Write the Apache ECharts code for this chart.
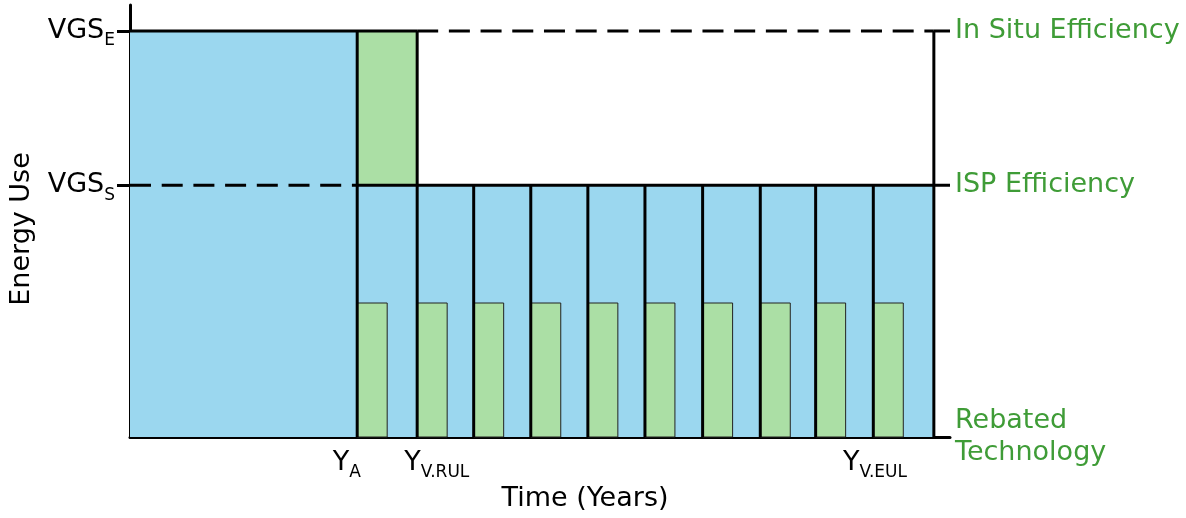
<!DOCTYPE html>
<html>
<head>
<meta charset="utf-8">
<script src="https://cdn.jsdelivr.net/npm/echarts@6/dist/echarts.min.js"></script>
<style>
html,body{margin:0;padding:0;background:#fff;}
#c{width:1186px;height:518px;}
</style>
</head>
<body>
<div id="c"></div>
<script>
// ---- data (x in years, y in relative energy use) ----
const blueStart = [0, 3.94];
const blueEnd = [3.94, 13.94];
const blueLevel = [100, 62];
const greenBlock = [3.94, 4.98, 62, 100];          // x0, x1, low, high
const boundaries = [3.94, 4.98, 5.96, 6.95, 7.94, 8.93, 9.93, 10.93, 11.89, 12.89, 13.94];
const boundaryTop = [100, 100, 62, 62, 62, 62, 62, 62, 62, 62, 100];
const rebateStart = [3.94, 4.98, 5.96, 6.95, 7.94, 8.93, 9.93, 10.93, 11.89, 12.89];
const rebateWidth = 0.52;
const rebateLevel = 33;
const VGS_E = 100, VGS_S = 62;
const xMax = 14.22, yMax = 106.4;
// horizontal reference segments: x0, x1, level, dashed?
const hSegments = [
  [0, 4.98, VGS_E, 0],
  [4.98, 13.94, VGS_E, 1],
  [13.94, xMax, VGS_E, 0],
  [0, 3.94, VGS_S, 1],
  [3.94, xMax, VGS_S, 0]
];
const xTickValues = [3.76, 5.32, 12.92];
const xTickLabels = ['Y{s|A}', 'Y{s|V.RUL}', 'Y{s|V.EUL}'];
const yTickValues = [VGS_S, VGS_E];
const yTickLabels = ['VGS{s|S}', 'VGS{s|E}'];
const rightValues = [0, VGS_S, VGS_E];
const rightLabels = ['Rebated\nTechnology', 'ISP Efficiency', 'In Situ Efficiency'];

const BLUE = '#9bd7ef', GREEN = '#abdfa5', TXTGREEN = '#3f9c37';
const FONT = 'DejaVu Sans';
const FS = 27;

const chart = echarts.init(document.getElementById('c'));
const richSub = {
  s: {fontSize: 17, fontFamily: FONT, color: '#000', verticalAlign: 'bottom', padding: [0, 0, -5, 0]}
};
chart.setOption({
  animation: false,
  grid: {left: 130, right: 236, top: 5, bottom: 81},
  xAxis: {
    type: 'value', min: 0, max: xMax,
    axisLine: {show: true, lineStyle: {color: '#000', width: 3}},
    axisTick: {show: false},
    splitLine: {show: false},
    axisLabel: {
      customValues: xTickValues, margin: 12,
      fontSize: FS, fontFamily: FONT, color: '#000',
      formatter: v => xTickLabels[xTickValues.indexOf(v)],
      rich: richSub
    }
  },
  yAxis: [{
    type: 'value', min: 0, max: yMax, position: 'left',
    axisLine: {show: true, lineStyle: {color: '#000', width: 3}},
    axisTick: {show: true, customValues: yTickValues, length: 13, lineStyle: {color: '#000', width: 3}},
    splitLine: {show: false},
    axisLabel: {
      customValues: yTickValues, margin: 15,
      fontSize: FS, fontFamily: FONT, color: '#000',
      formatter: v => yTickLabels[yTickValues.indexOf(v)],
      rich: richSub
    }
  }, {
    type: 'value', min: 0, max: yMax, position: 'right',
    axisLine: {show: false}, axisTick: {show: false}, splitLine: {show: false},
    axisLabel: {
      customValues: rightValues, margin: 5,
      fontSize: FS, fontFamily: FONT, color: TXTGREEN, lineHeight: 32,
      formatter: v => rightLabels[rightValues.indexOf(v)]
    }
  }],
  graphic: [
    {type: 'text', x: 22, y: 229, rotation: Math.PI / 2,
     style: {text: 'Energy Use', font: FS + 'px "DejaVu Sans"', fill: '#000', align: 'center', verticalAlign: 'middle'}},
    {type: 'text', x: 585, y: 499,
     style: {text: 'Time (Years)', font: FS + 'px "DejaVu Sans"', fill: '#000', align: 'center', verticalAlign: 'middle'}}
  ],
  series: [
    {
      type: 'custom', z: 1,
      data: blueStart.map((s, i) => [s, blueEnd[i], blueLevel[i]]),
      renderItem: (p, api) => {
        const a = api.coord([api.value(0), api.value(2)]);
        const b = api.coord([api.value(1), 0]);
        return {type: 'rect', shape: {x: a[0], y: a[1], width: b[0] - a[0], height: b[1] - a[1]}, style: {fill: BLUE}};
      }
    },
    {
      type: 'custom', z: 2,
      data: [greenBlock],
      renderItem: (p, api) => {
        const a = api.coord([api.value(0), api.value(3)]);
        const b = api.coord([api.value(1), api.value(2)]);
        return {type: 'rect', shape: {x: a[0], y: a[1], width: b[0] - a[0], height: b[1] - a[1]}, style: {fill: GREEN, stroke: '#333', lineWidth: 1}};
      }
    },
    {
      type: 'custom', z: 3,
      data: rebateStart.map(s => [s, s + rebateWidth, rebateLevel]),
      renderItem: (p, api) => {
        const a = api.coord([api.value(0), api.value(2)]);
        const b = api.coord([api.value(1), 0]);
        return {type: 'rect', shape: {x: a[0], y: a[1], width: b[0] - a[0], height: b[1] - a[1]}, style: {fill: GREEN, stroke: '#222', lineWidth: 1}};
      }
    },
    {
      type: 'custom', z: 4,
      data: hSegments,
      renderItem: (p, api) => {
        const a = api.coord([api.value(0), api.value(2)]);
        const b = api.coord([api.value(1), api.value(2)]);
        return {type: 'line', shape: {x1: a[0], y1: a[1], x2: b[0], y2: b[1]},
          style: {stroke: '#000', lineWidth: 3, lineDash: api.value(3) ? [21, 10.7] : null}};
      }
    },
    {
      type: 'custom', z: 5,
      data: boundaries.map((x, i) => [x, boundaryTop[i]]),
      renderItem: (p, api) => {
        const a = api.coord([api.value(0), api.value(1)]);
        const b = api.coord([api.value(0), 0]);
        return {type: 'line', shape: {x1: a[0], y1: a[1], x2: b[0], y2: b[1]}, style: {stroke: '#000', lineWidth: 3}};
      }
    }
  ]
});
</script>
</body>
</html>
